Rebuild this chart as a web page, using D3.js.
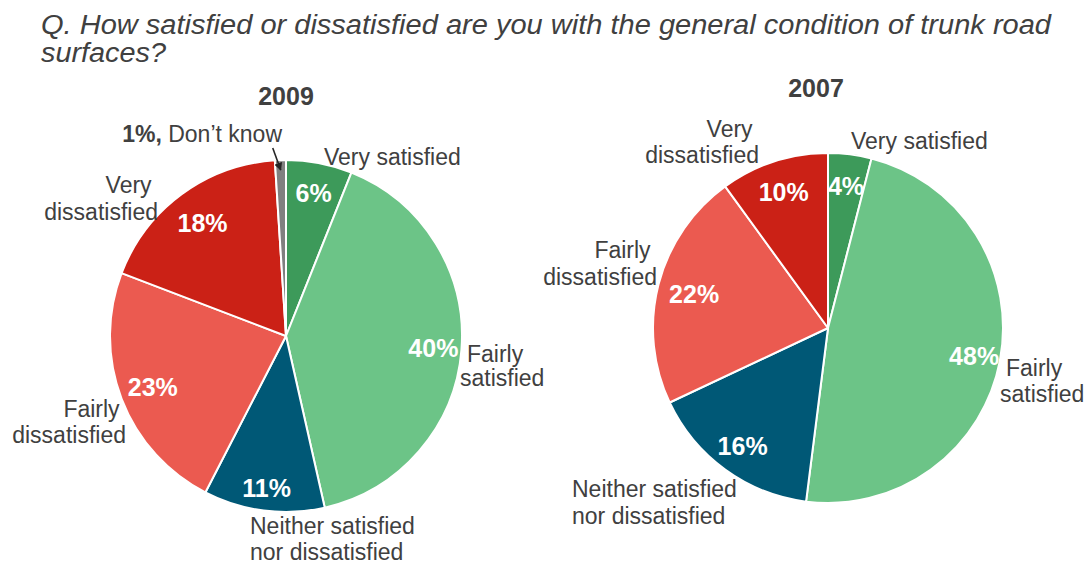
<!DOCTYPE html>
<html>
<head>
<meta charset="utf-8">
<script src="https://cdn.jsdelivr.net/npm/d3@7/dist/d3.min.js"></script>
<style>
  html, body { margin: 0; padding: 0; background: #fff; }
  svg { display: block; font-family: "Liberation Sans", Arial, sans-serif; }
</style>
</head>
<body>
<svg id="chart" width="1088" height="565"></svg>
<script>
// Survey answers, clockwise from 12 o'clock
const categories = [
  "Very satisfied",
  "Fairly satisfied",
  "Neither satisfied nor dissatisfied",
  "Fairly dissatisfied",
  "Very dissatisfied",
  "Don\u2019t know"
];
const values2009 = [6, 40, 11, 23, 18, 1];
const values2007 = [4, 48, 16, 22, 10];
const years = ["2009", "2007"];
const titleLines = [
  "Q. How satisfied or dissatisfied are you with the general condition of trunk road",
  "surfaces?"
];

// How each category name wraps on the chart
const labelLines = {
  "Very satisfied": ["Very satisfied"],
  "Fairly satisfied": ["Fairly", "satisfied"],
  "Neither satisfied nor dissatisfied": ["Neither satisfied", "nor dissatisfied"],
  "Fairly dissatisfied": ["Fairly ", "dissatisfied"],
  "Very dissatisfied": ["Very ", "dissatisfied"],
  "Don\u2019t know": ["Don\u2019t know"]
};

const palette = d3.scaleOrdinal()
  .domain(categories)
  .range(["#3d9a5a", "#6cc487", "#005876", "#eb5a50", "#cb2116", "#808080"]);

// Layout: pie centres, radial position of the percentages (share of radius)
// and category label placement (offsets from centre)
const pies = [
  {
    year: years[0], values: values2009, cx: 286, cy: 336, r: 176, titleDx: 0,
    pctRadius: [0.83, 0.84, 0.87, 0.81, 0.80],
    labels: {
      "Very satisfied":   { anchor: "start", x: [38],        y: [-171] },
      "Fairly satisfied": { anchor: "start", x: [181, 174],  y: [26, 50] },
      "Neither satisfied nor dissatisfied": { anchor: "start", x: [-36, -36], y: [198, 224] },
      "Fairly dissatisfied": { anchor: "end", x: [-160, -160], y: [81, 107] },
      "Very dissatisfied":   { anchor: "end", x: [-128, -128], y: [-143, -116] },
      "Don\u2019t know":     { anchor: "end", x: [-4],         y: [-194] }
    }
  },
  {
    year: years[1], values: values2007, cx: 828, cy: 328, r: 175, titleDx: -12,
    pctRadius: [0.82, 0.85, 0.83, 0.79, 0.82],
    labels: {
      "Very satisfied":   { anchor: "start", x: [23],        y: [-179] },
      "Fairly satisfied": { anchor: "start", x: [178, 172],  y: [48, 74] },
      "Neither satisfied nor dissatisfied": { anchor: "start", x: [-256, -256], y: [169, 196] },
      "Fairly dissatisfied": { anchor: "end", x: [-171, -171], y: [-70, -43] },
      "Very dissatisfied":   { anchor: "end", x: [-69, -69],   y: [-191, -165] }
    }
  }
];

const svg = d3.select("#chart");
const textColor = "#404040";

svg.append("defs").append("marker")
  .attr("id", "arrowhead")
  .attr("viewBox", "0 0 10 10")
  .attr("refX", 9).attr("refY", 5)
  .attr("markerWidth", 5).attr("markerHeight", 5)
  .attr("orient", "auto")
  .append("path")
  .attr("d", "M0,0 L10,5 L0,10 Z")
  .attr("fill", "#262626");

// Question title (two lines, slightly widened lettering)
const titleWidths = [1010, 125];
svg.append("g")
  .selectAll("text")
  .data(titleLines)
  .join("text")
  .attr("x", 41)
  .attr("y", (d, i) => 34 + i * 28)
  .attr("font-size", 27)
  .attr("font-style", "italic")
  .attr("fill", textColor)
  .attr("textLength", (d, i) => titleWidths[i])
  .attr("lengthAdjust", "spacingAndGlyphs")
  .text(d => d);

const pie = d3.pie().sort(null).value(d => d.value)
  .startAngle(0).endAngle(2 * Math.PI);

pies.forEach(p => {
  const g = svg.append("g").attr("transform", `translate(${p.cx},${p.cy})`);
  const data = p.values.map((v, i) => ({ name: categories[i], value: v }));
  const arcs = pie(data);
  const arc = d3.arc().innerRadius(0).outerRadius(p.r);
  const pctPos = d => {
    const rr = p.r * p.pctRadius[d.index];
    return d3.arc().innerRadius(rr).outerRadius(rr).centroid(d);
  };

  // Year heading
  g.append("text")
    .attr("x", p.titleDx)
    .attr("y", -231)
    .attr("text-anchor", "middle")
    .attr("font-size", 25)
    .attr("font-weight", "bold")
    .attr("fill", textColor)
    .text(p.year);

  // Slices
  g.selectAll("path.slice")
    .data(arcs)
    .join("path")
    .attr("class", "slice")
    .attr("d", arc)
    .attr("fill", d => palette(d.data.name))
    .attr("stroke", "#fff")
    .attr("stroke-width", 2)
    .attr("stroke-linejoin", "round");

  // Percentages inside the slices
  g.selectAll("text.pct")
    .data(arcs.filter(d => d.data.name !== categories[5]))
    .join("text")
    .attr("class", "pct")
    .attr("transform", d => `translate(${pctPos(d)})`)
    .attr("dy", "0.36em")
    .attr("text-anchor", "middle")
    .attr("font-size", 25)
    .attr("font-weight", "bold")
    .attr("fill", "#fff")
    .text(d => d.data.value + "%");

  // Category names around the pie
  arcs.forEach(d => {
    const lay = p.labels[d.data.name];
    const t = g.append("text")
      .attr("text-anchor", lay.anchor)
      .attr("font-size", 23)
      .attr("fill", textColor)
      .attr("xml:space", "preserve")
      .style("white-space", "pre");
    labelLines[d.data.name].forEach((line, i) => {
      const ts = t.append("tspan").attr("x", lay.x[i]).attr("y", lay.y[i]);
      if (d.data.name === categories[5]) {
        ts.append("tspan").attr("font-weight", "bold").text(d.data.value + "%, ");
        ts.append("tspan").text(line);
      } else {
        ts.text(line);
      }
    });

    // Leader arrow for the tiny slice
    if (d.data.name === categories[5]) {
      const tip = d3.arc().innerRadius(p.r - 10).outerRadius(p.r - 10).centroid(d);
      g.append("line")
        .attr("x1", tip[0] - 8).attr("y1", -188)
        .attr("x2", tip[0]).attr("y2", tip[1])
        .attr("stroke", "#262626")
        .attr("stroke-width", 1.6)
        .attr("marker-end", "url(#arrowhead)");
    }
  });
});
</script>
</body>
</html>
